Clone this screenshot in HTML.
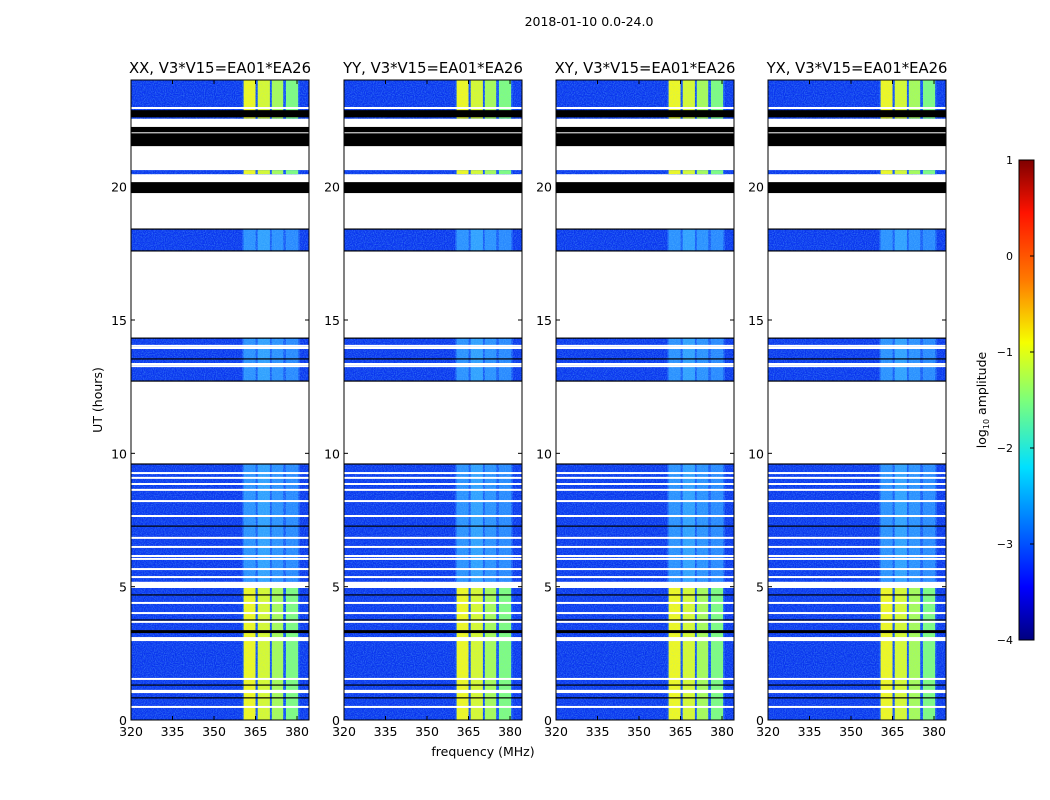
<!DOCTYPE html>
<html><head><meta charset="utf-8"><style>
body{margin:0;background:#fff;width:1050px;height:800px;overflow:hidden}
svg{display:block;font-family:"DejaVu Sans","Liberation Sans",sans-serif}
</style></head><body>
<svg id="fig" width="1050" height="800" viewBox="0 0 1050 800">
<defs>
<filter id="noise" x="0" y="0" width="1" height="1">
<feTurbulence type="fractalNoise" baseFrequency="0.9" numOctaves="1" seed="3"/>
<feColorMatrix type="matrix" values="0 0 0 0 0.15  0 0 0 0 0.6  0 0 0 0 1  1.6 0 0 0 -0.6"/>
</filter>
<filter id="noise2" x="0" y="0" width="1" height="1">
<feTurbulence type="fractalNoise" baseFrequency="0.8" numOctaves="1" seed="7"/>
<feColorMatrix type="matrix" values="0 0 0 0 0  0 0 0 0 0.05  0 0 0 0 0.6  1.4 0 0 0 -0.45"/>
</filter>
<linearGradient id="jet" x1="0" y1="1" x2="0" y2="0">
<stop offset="0" stop-color="#00007f"/><stop offset="0.11" stop-color="#0000ff"/>
<stop offset="0.36" stop-color="#00e0ff"/><stop offset="0.5" stop-color="#7dff7a"/>
<stop offset="0.62" stop-color="#f5ff00"/><stop offset="0.75" stop-color="#ff7a00"/>
<stop offset="0.89" stop-color="#ff1300"/><stop offset="1" stop-color="#7f0000"/>
</linearGradient>
</defs>
<text x="589" y="26" font-size="12.5" text-anchor="middle">2018-01-10 0.0-24.0</text>
<text x="483" y="756" font-size="12.5" text-anchor="middle">frequency (MHz)</text>
<text x="0" y="0" font-size="12.5" text-anchor="middle" transform="translate(102,400) rotate(-90)">UT (hours)</text>
<g id="panels"></g>
<g id="cbar"></g>
</svg>
<script>
// data
const panelTitles = ["XX, V3*V15=EA01*EA26","YY, V3*V15=EA01*EA26","XY, V3*V15=EA01*EA26","YX, V3*V15=EA01*EA26"];
const panelLefts = [131,344,556,768];
const xTicks = [320,335,350,365,380];
const yTicks = [0,5,10,15,20];
const dataSegments = [[22.55,24,"y"],[20.47,20.62,"y"],[17.59,18.41,"c"],[12.71,14.32,"c"],[5.18,9.6,"c"],[0,4.95,"y"]];
const bandStarts = [360.7,365.8,370.9,376.0];
const bandEnds = [365.0,370.2,375.0,380.4];
const bandYellow = ["#f0f820","#d8fa30","#a8fc58","#80fc80"];
const bandCyan = ["#2a90ff","#30a0ff","#2a90ff","#2888ff"];
const whiteLines = [22.95,14.03,13.95,13.35,13.27,9.26,9.08,8.85,8.63,8.21,7.65,6.83,6.49,6.15,6.04,5.66,5.36,4.39,4.01,3.68,1.54,0.49];
const whiteGaps = [[4.95,5.18],[2.96,3.11],[1.01,1.13]];
const blackLines = [13.54,7.27,4.69,3.75,1.31,0.83,12.71,14.32,17.59,18.41,9.6];
const blackBlocks = [[22.6,22.87],[21.52,22.24],[19.76,20.17],[3.26,3.37]];
const cbTicks = [1,0,-1,-2,-3,-4];
const cbLabels = ["1","0","\u22121","\u22122","\u22123","\u22124"];

const NS="http://www.w3.org/2000/svg";
const PW=178, TOP=80, BOT=720;
function yS(h){return BOT-(h/24)*(BOT-TOP);}
function xS(f,L){return L+(f-320)*2.767;}
function mk(tag,attrs,parent){const e=document.createElementNS(NS,tag);for(const k in attrs)e.setAttribute(k,attrs[k]);parent.appendChild(e);return e;}

const P=document.getElementById("panels");
panelLefts.forEach((L,pi)=>{
  const g=mk("g",{},P);
  
  
  dataSegments.forEach(s=>{
    const y0=yS(s[1]),y1=yS(s[0]);
    const r=mk("rect",{x:L,y:y0,width:PW,height:y1-y0,fill:"#0c34f4"},g);
    
    
    mk("rect",{x:xS(360.2,L),y:y0,width:xS(381,L)-xS(360.2,L),height:y1-y0,fill:s[2]=="y"?"#1450ff":"#1c60ff"},g);
    mk("rect",{x:L,y:y0,width:PW,height:y1-y0,fill:"#000",filter:"url(#noise2)",opacity:0.6},g);
    mk("rect",{x:L,y:y0,width:PW,height:y1-y0,fill:"#000",filter:"url(#noise)",opacity:0.55},g);
    bandStarts.forEach((b,i)=>{
      const bx=xS(b,L),bw=xS(bandEnds[i],L)-bx;
      const br=mk("rect",{x:bx,y:y0,width:bw,height:y1-y0,fill:s[2]=="y"?bandYellow[i]:bandCyan[i]},g);
      
      
      mk("rect",{x:bx,y:y0,width:bw,height:y1-y0,fill:"#000",filter:"url(#noise)",opacity:s[2]=="y"?0.25:0.5},g);
    });
  });
  blackBlocks.forEach(b=>{const y0=yS(b[1]),y1=yS(b[0]);
    const r=mk("rect",{x:L,y:y0,width:PW,height:y1-y0,fill:"#000"},g);
    
    });
  mk("rect",{x:L,y:yS(22.02)-0.5,width:PW,height:1,fill:"#fff"},g);
  blackLines.forEach(h=>{mk("rect",{x:L,y:yS(h)-0.6,width:PW,height:1.2,fill:"#000"},g);});
  whiteLines.forEach(h=>{const r=mk("rect",{x:L,y:yS(h)-1,width:PW,height:2,fill:"#fff"},g);
    
    });
  whiteGaps.forEach(b=>{const y0=yS(b[1]),y1=yS(b[0]);mk("rect",{x:L,y:y0,width:PW,height:y1-y0,fill:"#fff"},g);});
  const fr=mk("rect",{x:L,y:TOP,width:PW,height:BOT-TOP,fill:"none",stroke:"#000","stroke-width":1},g);
  
  
  const t=mk("text",{x:L+PW/2,y:73,"font-size":14.8,"text-anchor":"middle"},g);
  t.textContent=panelTitles[pi];
  
  
  xTicks.forEach(v=>{const x=xS(v,L);
    mk("line",{x1:x,y1:BOT,x2:x,y2:BOT-4,stroke:"#000"},g);
    mk("line",{x1:x,y1:TOP,x2:x,y2:TOP+4,stroke:"#000"},g);
    const tx=mk("text",{x:x,y:BOT+16,"font-size":12.5,"text-anchor":"middle"},g);tx.textContent=v;
    
    });
  yTicks.forEach(v=>{const y=yS(v);
    mk("line",{x1:L,y1:y,x2:L+4,y2:y,stroke:"#000"},g);
    mk("line",{x1:L+PW,y1:y,x2:L+PW-4,y2:y,stroke:"#000"},g);
    const tx=mk("text",{x:L-4,y:y+5,"font-size":12.5,"text-anchor":"end"},g);tx.textContent=v;
    
    });
});

const C=document.getElementById("cbar");
const CT=160,CB=640,CL=1019,CW=15;
function cy(v){return CT+(1-v)/5*(CB-CT);}
mk("rect",{x:CL,y:CT,width:CW,height:CB-CT,fill:"url(#jet)",stroke:"#000","stroke-width":1},C);
cbTicks.forEach((v,i)=>{const y=cy(v);
  mk("line",{x1:CL+CW-4,y1:y,x2:CL+CW,y2:y,stroke:"#000"},C);
  const t=mk("text",{x:CL-6,y:y+4,"font-size":11,"text-anchor":"end"},C);t.textContent=cbLabels[i];
  
  });
const lab=mk("text",{transform:"translate(986,400) rotate(-90)","font-size":12.5,"text-anchor":"middle"},C);
lab.innerHTML='log<tspan font-size="8" dy="3">10</tspan><tspan dy="-3"> amplitude</tspan>';


</script>
</body></html>
